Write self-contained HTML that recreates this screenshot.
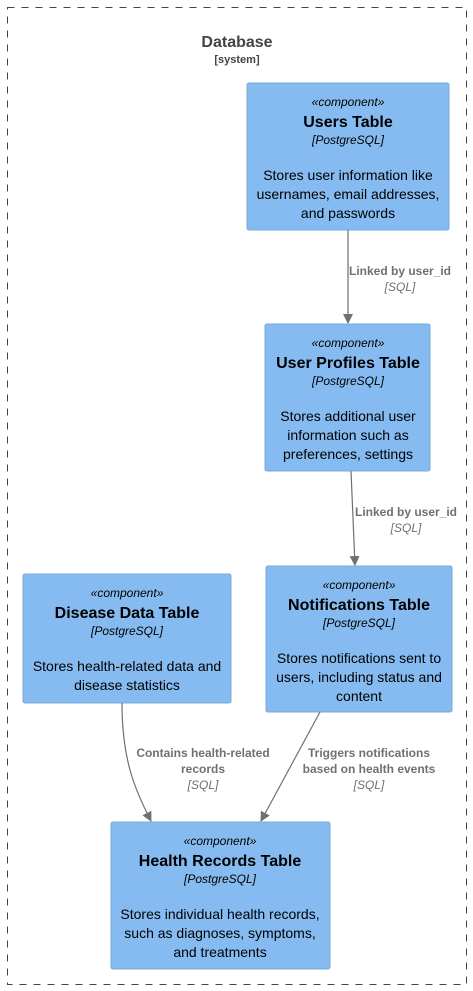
<!DOCTYPE html>
<html><head><meta charset="utf-8"><style>body{margin:0;background:#fff}svg{display:block}text{font-family:"Liberation Sans",sans-serif}</style></head><body>
<svg width="473" height="991" viewBox="0 0 473 991" xmlns="http://www.w3.org/2000/svg">
<defs><marker id="a" markerWidth="10" markerHeight="10" refX="9" refY="5" orient="auto" markerUnits="userSpaceOnUse"><path d="M0,0 L10,5 L0,10 z" fill="#707070"/></marker></defs>
<rect x="7.5" y="7.5" width="459" height="977" fill="none" stroke="#444" stroke-dasharray="7,7"/>
<text x="237" y="47" text-anchor="middle" font-size="16" font-weight="bold" fill="#444">Database</text>
<text x="237" y="63" text-anchor="middle" font-size="11" font-weight="bold" fill="#444">[system]</text>
<g fill="#85BBF0" stroke="#78A8D8">
<rect x="247" y="83" width="202" height="147" rx="2"/>
<rect x="265" y="324" width="165" height="147" rx="2"/>
<rect x="23" y="574" width="208" height="129" rx="2"/>
<rect x="266" y="566" width="186" height="146" rx="2"/>
<rect x="111" y="822" width="219" height="147" rx="2"/>
</g>
<g text-anchor="middle" fill="#000">
<g transform="translate(348,0)"><text y="106" font-size="12" font-style="italic">«component»</text><text y="127" font-size="16" font-weight="bold">Users Table</text><text y="144" font-size="12" font-style="italic">[PostgreSQL]</text><text y="180" font-size="14">Stores user information like</text><text y="199" font-size="14">usernames, email addresses,</text><text y="218" font-size="14">and passwords</text></g>
<g transform="translate(348,241)"><text y="106" font-size="12" font-style="italic">«component»</text><text y="127" font-size="16" font-weight="bold">User Profiles Table</text><text y="144" font-size="12" font-style="italic">[PostgreSQL]</text><text y="180" font-size="14">Stores additional user</text><text y="199" font-size="14">information such as</text><text y="218" font-size="14">preferences, settings</text></g>
<g transform="translate(127,491)"><text y="106" font-size="12" font-style="italic">«component»</text><text y="127" font-size="16" font-weight="bold">Disease Data Table</text><text y="144" font-size="12" font-style="italic">[PostgreSQL]</text><text y="180" font-size="14">Stores health-related data and</text><text y="199" font-size="14">disease statistics</text></g>
<g transform="translate(359,483)"><text y="106" font-size="12" font-style="italic">«component»</text><text y="127" font-size="16" font-weight="bold">Notifications Table</text><text y="144" font-size="12" font-style="italic">[PostgreSQL]</text><text y="180" font-size="14">Stores notifications sent to</text><text y="199" font-size="14">users, including status and</text><text y="218" font-size="14">content</text></g>
<g transform="translate(220,739)"><text y="106" font-size="12" font-style="italic">«component»</text><text y="127" font-size="16" font-weight="bold">Health Records Table</text><text y="144" font-size="12" font-style="italic">[PostgreSQL]</text><text y="180" font-size="14">Stores individual health records,</text><text y="199" font-size="14">such as diagnoses, symptoms,</text><text y="218" font-size="14">and treatments</text></g>
</g>
<g stroke="#707070" fill="none" stroke-width="1.2" marker-end="url(#a)">
<path d="M348,230 L348,323"/>
<path d="M351,471 L355,565"/>
<path d="M122,703 C122,760 135,790 151,821"/>
<path d="M320,712 L261,821"/>
</g>
<g text-anchor="middle" font-size="12" fill="#707070">
<text x="400" y="275" font-weight="bold">Linked by user_id</text><text x="400" y="291" font-style="italic">[SQL]</text>
<text x="406" y="516" font-weight="bold">Linked by user_id</text><text x="406" y="532" font-style="italic">[SQL]</text>
<text x="203" y="757" font-weight="bold">Contains health-related</text><text x="203" y="773" font-weight="bold">records</text><text x="203" y="789" font-style="italic">[SQL]</text>
<text x="369" y="757" font-weight="bold">Triggers notifications</text><text x="369" y="773" font-weight="bold">based on health events</text><text x="369" y="789" font-style="italic">[SQL]</text>
</g>
</svg>
</body></html>
